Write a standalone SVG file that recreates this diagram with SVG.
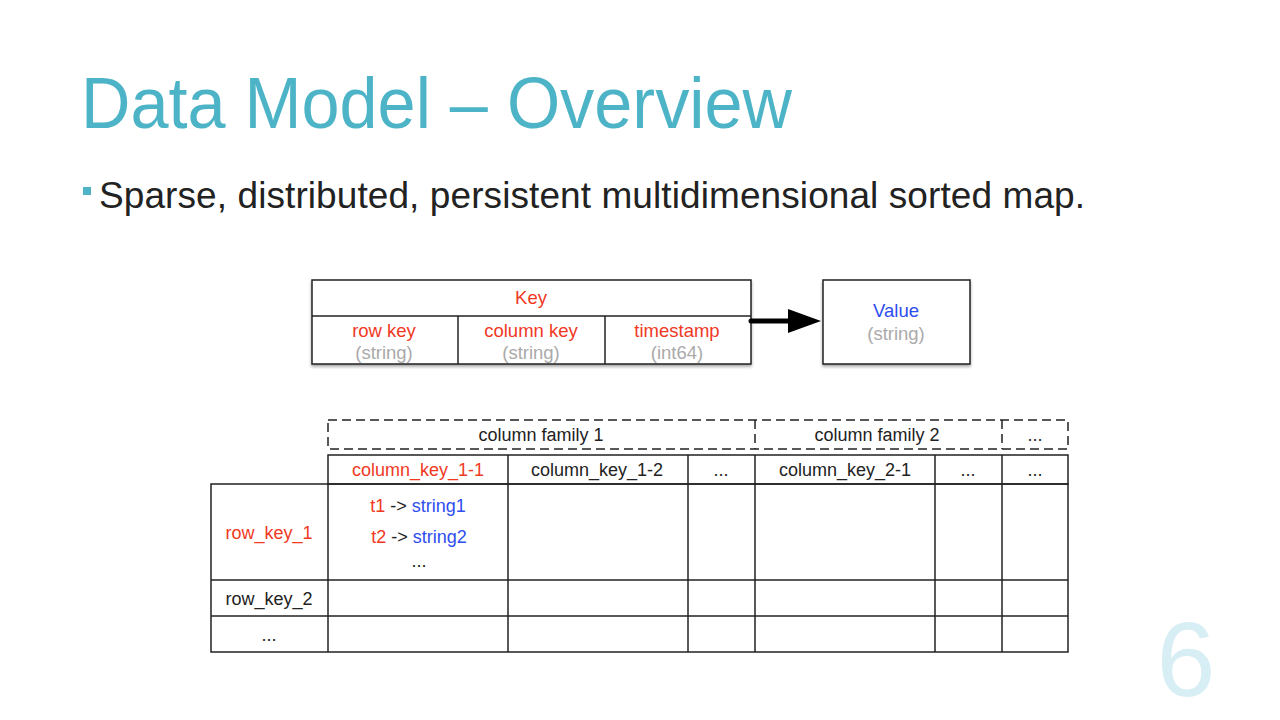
<svg xmlns="http://www.w3.org/2000/svg" width="1280" height="720" viewBox="0 0 1280 720">
<defs>
<style>
.t{font-family:"Liberation Sans",Arial,sans-serif;}
.c{font-size:18px;text-anchor:middle;fill:#222;}
.k{font-size:18.5px;text-anchor:middle;}
.red{fill:#f0391f;}
.blue{fill:#2e4df0;}
.gray{fill:#aaaaaa;}
.box{fill:#fff;stroke:#222;stroke-width:1.5;}
.ln{stroke:#222;stroke-width:1.5;fill:none;}
.dash{stroke:#222;stroke-width:1.5;fill:none;stroke-dasharray:9 5;}
</style>
<filter id="sh" x="-5%" y="-10%" width="110%" height="130%">
<feDropShadow dx="0" dy="2" stdDeviation="1.5" flood-color="#000" flood-opacity="0.35"/>
</filter>
</defs>
<rect width="1280" height="720" fill="#fff"/>

<text class="t" x="81" y="128" font-size="72" fill="#4db4c7" textLength="711" lengthAdjust="spacingAndGlyphs">Data Model – Overview</text>
<rect x="83" y="187" width="8" height="8" fill="#4db4c7"/>
<text class="t" x="99" y="208" font-size="37" fill="#222" textLength="986" lengthAdjust="spacing">Sparse, distributed, persistent multidimensional sorted map.</text>

<g id="key">
<rect class="box" x="312" y="280" width="439" height="84" filter="url(#sh)"/>
<line class="ln" x1="312" y1="316" x2="751" y2="316"/>
<line class="ln" x1="458" y1="316" x2="458" y2="364"/>
<line class="ln" x1="605" y1="316" x2="605" y2="364"/>
<text class="t k red" x="531" y="304">Key</text>
<text class="t k red" x="384" y="337">row key</text>
<text class="t k gray" x="384" y="359">(string)</text>
<text class="t k red" x="531" y="337">column key</text>
<text class="t k gray" x="531" y="359">(string)</text>
<text class="t k red" x="677" y="337">timestamp</text>
<text class="t k gray" x="677" y="359">(int64)</text>
</g>

<g id="value">
<rect class="box" x="823" y="280" width="147" height="84" filter="url(#sh)"/>
<text class="t k blue" x="896" y="317">Value</text>
<text class="t k gray" x="896" y="340">(string)</text>
</g>

<g id="connectors">
<line x1="751" y1="321" x2="792" y2="321" stroke="#000" stroke-width="5" stroke-linecap="round"/>
<polygon points="788,309 821,321 788,333" fill="#000"/>
</g>

<g id="table">
<rect class="dash" x="328" y="420" width="740" height="29"/>
<line class="dash" x1="755" y1="420" x2="755" y2="449"/>
<line class="dash" x1="1002" y1="420" x2="1002" y2="449"/>
<text class="t c" x="541" y="441">column family 1</text>
<text class="t c" x="877" y="441">column family 2</text>
<text class="t c" x="1035" y="441">...</text>

<rect class="ln" x="328" y="455" width="740" height="29"/>
<rect class="ln" x="211" y="484" width="857" height="168"/>
<line class="ln" x1="211" y1="580" x2="1068" y2="580"/>
<line class="ln" x1="211" y1="616" x2="1068" y2="616"/>
<line class="ln" x1="328" y1="484" x2="328" y2="652"/>
<line class="ln" x1="508" y1="455" x2="508" y2="652"/>
<line class="ln" x1="688" y1="455" x2="688" y2="652"/>
<line class="ln" x1="755" y1="455" x2="755" y2="652"/>
<line class="ln" x1="935" y1="455" x2="935" y2="652"/>
<line class="ln" x1="1002" y1="455" x2="1002" y2="652"/>

<text class="t c red" x="418" y="476">column_key_1-1</text>
<text class="t c" x="597" y="476">column_key_1-2</text>
<text class="t c" x="721" y="476">...</text>
<text class="t c" x="845" y="476">column_key_2-1</text>
<text class="t c" x="968" y="476">...</text>
<text class="t c" x="1035" y="476">...</text>

<text class="t c red" x="269" y="539">row_key_1</text>
<text class="t c" x="269" y="605">row_key_2</text>
<text class="t c" x="269" y="641">...</text>

<text class="t c" x="418" y="512"><tspan class="red">t1</tspan> -&gt; <tspan class="blue">string1</tspan></text>
<text class="t c" x="419" y="543"><tspan class="red">t2</tspan> -&gt; <tspan class="blue">string2</tspan></text>
<text class="t c" x="419" y="567">...</text>
</g>

<text class="t" x="1186" y="696" font-size="106" text-anchor="middle" fill="#d6eef4">6</text>
</svg>
